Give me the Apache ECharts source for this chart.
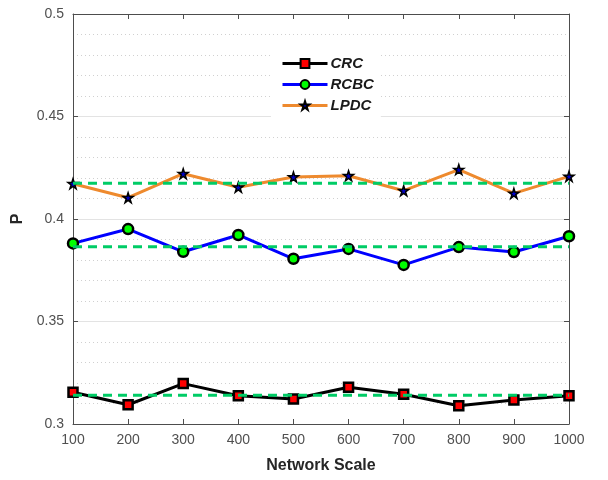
<!DOCTYPE html>
<html>
<head>
<meta charset="utf-8">
<script src="https://cdn.jsdelivr.net/npm/echarts@6/dist/echarts.min.js"></script>
<style>
  html, body { margin: 0; padding: 0; background: #fff; }
  #chart { width: 608px; height: 480px; }
</style>
</head>
<body>
<div id="chart"></div>
<script>
"use strict";
// network scale on the x axis
var scales = [100, 200, 300, 400, 500, 600, 700, 800, 900, 1000];
var crc = [0.3155, 0.3094, 0.3197, 0.3138, 0.3122, 0.3179, 0.3145, 0.3089, 0.3117, 0.3138];
var rcbc = [0.3881, 0.3951, 0.3840, 0.3922, 0.3806, 0.3854, 0.3776, 0.3863, 0.3839, 0.3916];
var lpdc = [0.4172, 0.4104, 0.4221, 0.4155, 0.4205, 0.4211, 0.4138, 0.4241, 0.4125, 0.4208];
// average levels (green dashed)
var means = [0.3140, 0.3865, 0.4175];
var yTicks = [0.3, 0.35, 0.4, 0.45, 0.5];

function pairs(vals) {
    var out = [];
    for (var i = 0; i < scales.length; i++) out.push([scales[i], vals[i]]);
    return out;
}

var STAR = 'path://M50,0 L61.8,36.3 L100,36.3 L69.1,58.8 L80.9,95.1 L50,72.6 L19.1,95.1 L30.9,58.8 L0,36.3 L38.2,36.3 Z';
var AXIS_COL = '#4d4d4d';
var LABEL_COL = '#505050';
var FONT = 'Liberation Sans, Arial';

function lineSeries(name, vals, color, symbol, fill, size, bw) {
    return {
        name: name,
        type: 'line',
        data: pairs(vals),
        symbol: symbol,
        symbolSize: size,
        showAllSymbol: true,
        z: 5,
        lineStyle: { color: color, width: 3 },
        itemStyle: { color: fill, borderColor: '#000', borderWidth: bw },
        emphasis: { disabled: true }
    };
}

var series = [];
for (var m = 0; m < means.length; m++) {
    series.push({
        name: 'mean' + m,
        type: 'line',
        data: [[scales[0], means[m]], [scales[scales.length - 1], means[m]]],
        symbol: 'none',
        z: 6,
        lineStyle: { color: '#00cc66', width: 3, type: [9, 6] },
        emphasis: { disabled: true }
    });
}
series.push(lineSeries('CRC', crc, '#000000', 'rect', '#ff0000', 9, 2.5));
series.push(lineSeries('RCBC', rcbc, '#0000ff', 'circle', '#00ff00', 10, 2.5));
series.push(lineSeries('LPDC', lpdc, '#ee8a2e', STAR, '#0000cc', 10, 1.5));

var opts = {
    animation: false,
    grid: { left: 73, right: 39, top: 14, bottom: 56 },
    legend: {
        data: ['CRC', 'RCBC', 'LPDC'],
        orient: 'vertical',
        left: 271,
        top: 47,
        backgroundColor: '#ffffff',
        padding: [9, 7, 12, 10],
        itemGap: 6,
        itemWidth: 45,
        itemHeight: 11,
        lineStyle: { width: 3 },
        textStyle: { fontFamily: FONT, fontSize: 15, fontWeight: 'bold', fontStyle: 'italic', color: '#1a1a1a', padding: [0, 0, 0, -2] }
    },
    xAxis: [{
        type: 'value', min: 100, max: 1000, interval: 100,
        name: 'Network Scale', nameLocation: 'middle', nameGap: 34,
        nameTextStyle: { fontFamily: FONT, fontSize: 16, fontWeight: 'bold', color: '#262626' },
        axisLine: { show: true, lineStyle: { color: AXIS_COL, width: 1 } },
        axisTick: { show: true, inside: true, length: 5, lineStyle: { color: AXIS_COL } },
        axisLabel: { fontFamily: FONT, fontSize: 14, color: LABEL_COL, margin: 9, formatter: function (v) { return String(v); } },
        splitLine: { show: false }
    }, {
        type: 'value', min: 100, max: 1000, interval: 100, position: 'top',
        axisLine: { show: true, lineStyle: { color: AXIS_COL, width: 1 } },
        axisTick: { show: true, inside: true, length: 5, lineStyle: { color: AXIS_COL } },
        axisLabel: { show: false },
        splitLine: { show: false }
    }],
    yAxis: [{
        type: 'value', min: 0.3, max: 0.5, interval: 0.05,
        name: 'P', nameLocation: 'middle', nameGap: 47,
        nameTextStyle: { fontFamily: FONT, fontSize: 16, fontWeight: 'bold', color: '#262626' },
        axisLine: { show: true, lineStyle: { color: AXIS_COL, width: 1 } },
        axisTick: { show: true, inside: true, length: 5, lineStyle: { color: AXIS_COL } },
        axisLabel: {
            fontFamily: FONT, fontSize: 14, color: LABEL_COL, margin: 9,
            formatter: function (v) {
                for (var i = 0; i < yTicks.length; i++) {
                    if (Math.abs(yTicks[i] - v) < 1e-9) return String(yTicks[i]);
                }
                return '';
            }
        },
        splitLine: { show: true, lineStyle: { color: '#e3e3e3', width: 1 } },
        minorTick: { show: false, splitNumber: 5 },
        minorSplitLine: { show: true, lineStyle: { color: '#d0d0d0', width: 1, type: [1, 3] } }
    }, {
        type: 'value', min: 0.3, max: 0.5, interval: 0.05, position: 'right',
        axisLine: { show: true, lineStyle: { color: AXIS_COL, width: 1 } },
        axisTick: { show: true, inside: true, length: 5, lineStyle: { color: AXIS_COL } },
        axisLabel: { show: false },
        splitLine: { show: false }
    }],
    series: series
};

var chart = echarts.init(document.getElementById('chart'));
chart.setOption(opts);
</script>
</body>
</html>
